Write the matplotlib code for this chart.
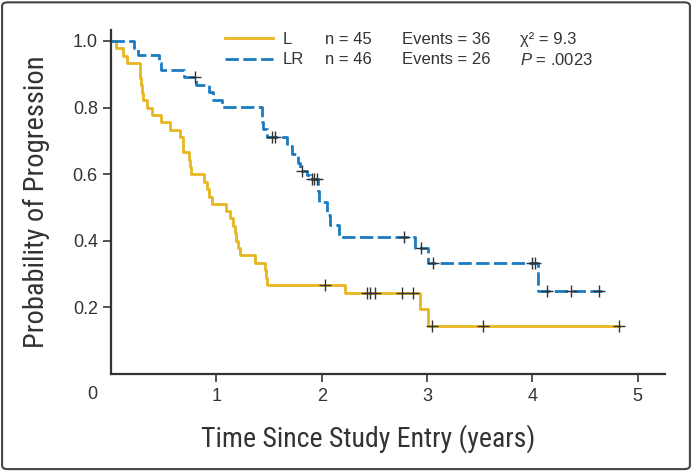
import matplotlib
matplotlib.use("Agg")
import matplotlib.pyplot as plt
from matplotlib import font_manager as fm
from matplotlib.patches import FancyBboxPatch

# L arm: step times and probability after each step
L_t = [0, 0.05, 0.11, 0.15, 0.275, 0.28, 0.285, 0.29, 0.30, 0.34, 0.39, 0.47, 0.56,
       0.655, 0.68, 0.687, 0.745, 0.75, 0.755, 0.88, 0.91, 0.93, 0.96, 1.09, 1.13,
       1.16, 1.18, 1.19, 1.21, 1.225, 1.37, 1.46, 1.47, 1.48, 2.22, 2.93, 3.01, 4.82]
L_s = [1.0, 0.978, 0.956, 0.933, 0.911, 0.889, 0.867, 0.844, 0.822, 0.800, 0.778, 0.756, 0.733,
       0.711, 0.689, 0.667, 0.644, 0.622, 0.600, 0.578, 0.556, 0.533, 0.511, 0.489, 0.467,
       0.444, 0.422, 0.400, 0.378, 0.356, 0.333, 0.311, 0.289, 0.267, 0.244, 0.194, 0.144, 0.144]
L_ct = [2.03, 2.43, 2.46, 2.51, 2.76, 2.87, 3.05, 3.53, 4.82]
L_cs = [0.267, 0.244, 0.244, 0.244, 0.244, 0.244, 0.144, 0.144, 0.144]

# LR arm
B_t = [0, 0.22, 0.26, 0.46, 0.47, 0.69, 0.81, 0.93, 0.97, 1.05, 1.43, 1.435, 1.44, 1.48,
       1.67, 1.72, 1.78, 1.79, 1.86, 1.89, 1.97, 1.975, 2.05, 2.08, 2.16, 2.89, 3.01, 4.05, 4.66]
B_s = [1.0, 0.978, 0.957, 0.935, 0.913, 0.891, 0.869, 0.847, 0.824, 0.802, 0.780, 0.757, 0.735, 0.713,
       0.685, 0.660, 0.635, 0.610, 0.598, 0.585, 0.550, 0.517, 0.477, 0.447, 0.412, 0.378, 0.334, 0.250, 0.250]
B_ct = [0.80, 1.53, 1.56, 1.81, 1.91, 1.93, 1.96, 2.78, 2.94, 3.06, 4.00, 4.03, 4.14, 4.37, 4.63]
B_cs = [0.891, 0.713, 0.713, 0.610, 0.585, 0.585, 0.585, 0.412, 0.378, 0.334, 0.334, 0.334,
        0.250, 0.250, 0.250]

groups = ["L", "LR"]
n_pts = ["n = 45", "n = 46"]
events = ["Events = 36", "Events = 26"]
stats = ["\u03c7\u00b2 = 9.3", "$P$ = .0023"]

yellow = "#E8B620"
blue = "#1A7BC0"
ink = "#333333"


def has_font(name):
    try:
        fm.findfont(fm.FontProperties(family=name), fallback_to_default=False)
        return True
    except Exception:
        return False


narrow = "Liberation Sans"
for cand in ["Roboto Condensed", "Archivo Narrow", "PT Sans Narrow", "Liberation Sans Narrow"]:
    if has_font(cand):
        narrow = cand
        break

plt.rcParams["font.family"] = ["Liberation Sans", "DejaVu Sans"]
plt.rcParams["mathtext.fontset"] = "custom"
plt.rcParams["mathtext.rm"] = "Liberation Sans"
plt.rcParams["mathtext.it"] = "Liberation Sans:italic"

fig = plt.figure(figsize=(6.92, 4.71), dpi=100)
ax = fig.add_axes([0.1604, 0.2059, 0.8006, 0.7304])

ax.step(L_t, L_s, where="post", color=yellow, lw=2.0)
ax.step(B_t, B_s, where="post", color=blue, lw=2.0, dashes=(4.8, 1.6))
ax.plot(L_ct, L_cs, "+", color=ink, ms=8, mew=1.0, zorder=5)
ax.plot(B_ct, B_cs, "+", color=ink, ms=8, mew=1.0, zorder=5)

ax.set_xlim(0, 5.26)
ax.set_ylim(0, 1.033)
ax.set_xticks([1, 2, 3, 4, 5])
ax.set_yticks([0.2, 0.4, 0.6, 0.8, 1.0])
ax.set_yticklabels(["0.2", "0.4", "0.6", "0.8", "1.0"])
ax.tick_params(labelsize=13, length=6, width=1.2, color=ink, labelcolor=ink)
ax.tick_params(axis="y", pad=3.5)
ax.tick_params(axis="x", pad=4)
for side in ["top", "right"]:
    ax.spines[side].set_visible(False)
for side in ["left", "bottom"]:
    ax.spines[side].set_linewidth(1.6)
    ax.spines[side].set_color(ink)

ax.text(-0.034, -0.06, "0", transform=ax.transAxes, ha="center", va="center",
        fontsize=13, color=ink)

xl = ax.set_xlabel("Time Since Study Entry (years)", family=narrow, fontsize=21, color=ink)
ax.xaxis.set_label_coords(0.464, -0.145)
yl = ax.set_ylabel("Probability of Progression", family=narrow, fontsize=21, color=ink)
ax.yaxis.set_label_coords(-0.11, 0.5)

# size the axis titles to the widths measured on the reference
fig.canvas.draw()
r = fig.canvas.get_renderer()
xw = xl.get_window_extent(r).width
xl.set_fontsize(21 * 335 / xw)
yh = yl.get_window_extent(r).height
yl.set_fontsize(21 * 292 / yh)

# legend block
rows_y = [0.972, 0.913]
for i, (c, style) in enumerate([(yellow, None), (blue, (4.8, 1.6))]):
    kw = {} if style is None else {"dashes": style}
    ax.plot([0.206, 0.292], [rows_y[i] + 0.004] * 2, transform=ax.transAxes, color=c, lw=2.0,
            clip_on=False, **kw)
    ax.text(0.310, rows_y[i], groups[i], transform=ax.transAxes, va="center", fontsize=12,
            color=ink)
    ax.text(0.386, rows_y[i], n_pts[i], transform=ax.transAxes, va="center", fontsize=12,
            color=ink)
    ax.text(0.525, rows_y[i], events[i], transform=ax.transAxes, va="center", fontsize=12,
            color=ink)
    ax.text(0.738, rows_y[i], stats[i], transform=ax.transAxes, va="center", fontsize=12,
            color=ink)

frame = FancyBboxPatch((0.003, 0.004), 0.994, 0.991, boxstyle="round,pad=0,rounding_size=0.008",
                       transform=fig.transFigure, fill=False, ec="#444444", lw=1.5)
fig.patches.append(frame)

fig.savefig("out.png", dpi=100)
